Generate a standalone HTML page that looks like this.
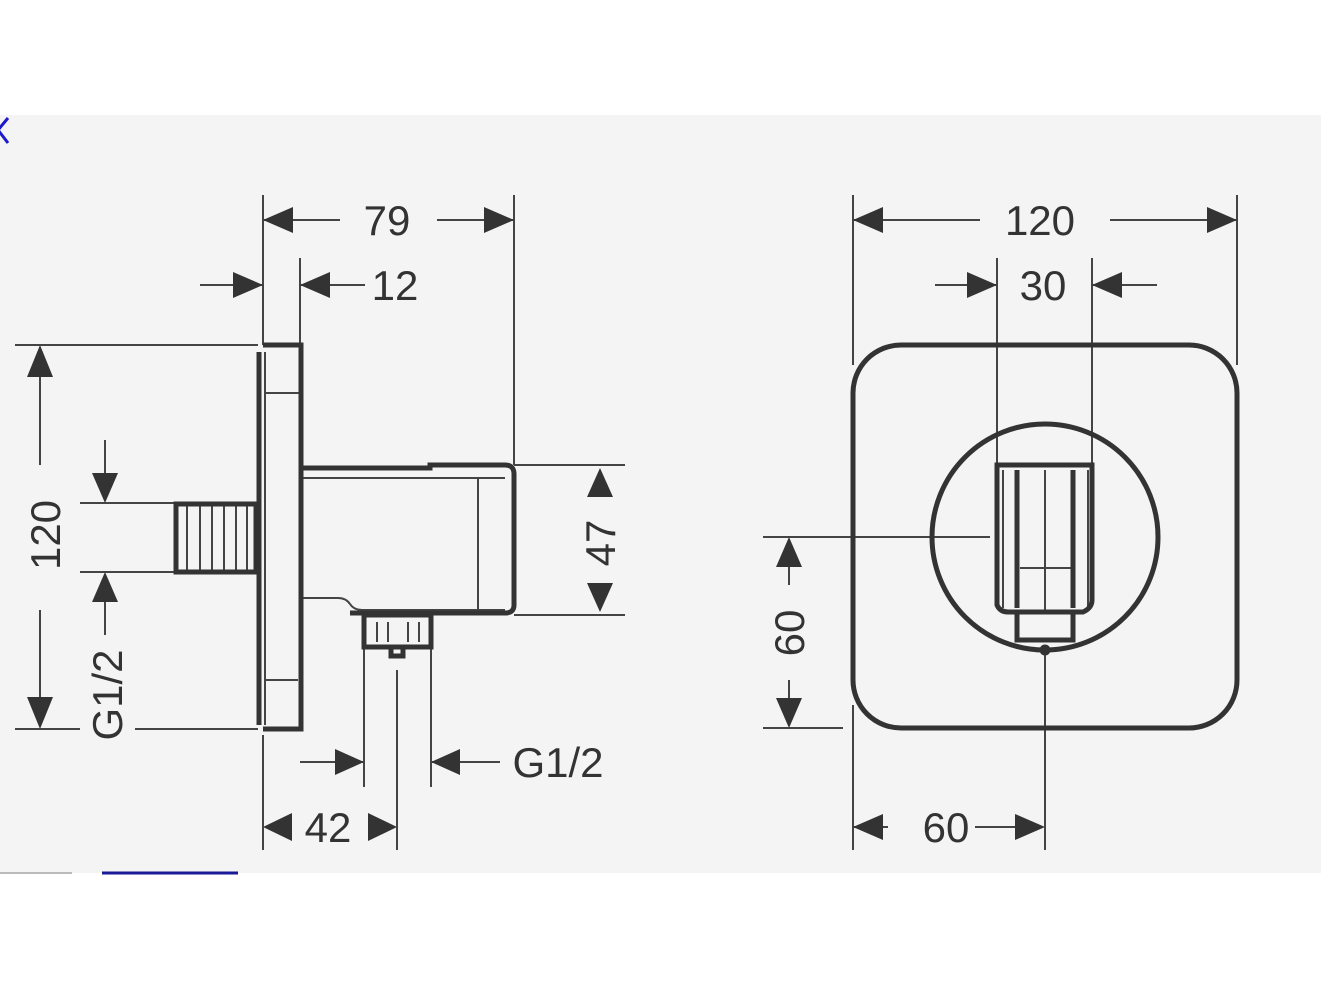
<!DOCTYPE html>
<html><head><meta charset="utf-8"><style>
html,body{margin:0;padding:0;background:#fff;}
svg{display:block;}
text{font-family:"Liberation Sans",sans-serif;font-size:42px;fill:#333;}
</style></head><body>
<svg width="1321" height="991" viewBox="0 0 1321 991" xmlns="http://www.w3.org/2000/svg">
<rect x="0" y="0" width="1321" height="991" fill="#fff"/>
<rect x="0" y="115" width="1321" height="758" fill="#f4f4f4"/>
<path d="M8 118 L-2 130 L8 143" stroke="#1a1acc" stroke-width="3" fill="none"/>
<line x1="0" y1="873" x2="72" y2="873" stroke="#bbb" stroke-width="2"/>
<line x1="102" y1="873" x2="238" y2="873" stroke="#1a1a99" stroke-width="3"/>

<g stroke="#444" stroke-width="2" fill="none">
<!-- LEFT VIEW dimension lines -->
<line x1="263" y1="195" x2="263" y2="345"/>
<line x1="514" y1="195" x2="514" y2="465"/>
<line x1="263" y1="220" x2="340" y2="220"/>
<line x1="437" y1="220" x2="514" y2="220"/>
<line x1="300" y1="258" x2="300" y2="345"/>
<line x1="200" y1="285" x2="263" y2="285"/>
<line x1="300" y1="285" x2="365" y2="285"/>
<line x1="15" y1="345" x2="258" y2="345"/>
<line x1="40" y1="375" x2="40" y2="465"/>
<line x1="40" y1="610" x2="40" y2="700"/>
<line x1="15" y1="729" x2="80" y2="729"/>
<line x1="135" y1="729" x2="258" y2="729"/>
<line x1="105" y1="440" x2="105" y2="475"/>
<line x1="80" y1="503" x2="175" y2="503"/>
<line x1="80" y1="572" x2="175" y2="572"/>
<line x1="105" y1="600" x2="105" y2="635"/>
<line x1="514" y1="465" x2="625" y2="465"/>
<line x1="514" y1="615" x2="625" y2="615"/>
<line x1="364" y1="630" x2="364" y2="787"/>
<line x1="431" y1="630" x2="431" y2="787"/>
<line x1="397" y1="670" x2="397" y2="850"/>
<line x1="263" y1="735" x2="263" y2="850"/>
<line x1="300" y1="762" x2="364" y2="762"/>
<line x1="431" y1="762" x2="500" y2="762"/>
<!-- plate details -->
<line x1="265" y1="393" x2="300" y2="393"/>
<line x1="265" y1="680" x2="298" y2="680"/>
<line x1="265" y1="352" x2="265" y2="725"/>
<line x1="303" y1="478" x2="505" y2="478"/>
<line x1="478" y1="478" x2="478" y2="612"/>
<path d="M303 598 L338 598 Q346 598 350 604 Q354 610 362 610 L505 610"/>
<!-- stub hatch -->
<line x1="187" y1="505" x2="187" y2="571"/>
<line x1="200" y1="505" x2="200" y2="571"/>
<line x1="212" y1="505" x2="212" y2="571"/>
<line x1="224" y1="505" x2="224" y2="571"/>
<line x1="236" y1="505" x2="236" y2="571"/>
<line x1="247" y1="505" x2="247" y2="571"/>
<!-- nut inner -->
<line x1="377" y1="622" x2="377" y2="642"/>
<line x1="388" y1="622" x2="388" y2="642"/>
<line x1="408" y1="622" x2="408" y2="642"/>
<line x1="419" y1="622" x2="419" y2="642"/>

<!-- RIGHT VIEW dims -->
<line x1="853" y1="195" x2="853" y2="365"/>
<line x1="1237" y1="195" x2="1237" y2="365"/>
<line x1="853" y1="220" x2="980" y2="220"/>
<line x1="1110" y1="220" x2="1237" y2="220"/>
<line x1="997" y1="258" x2="997" y2="465"/>
<line x1="1092" y1="258" x2="1092" y2="465"/>
<line x1="935" y1="285" x2="997" y2="285"/>
<line x1="1092" y1="285" x2="1157" y2="285"/>
<line x1="763" y1="537" x2="990" y2="537"/>
<line x1="789" y1="560" x2="789" y2="585"/>
<line x1="789" y1="680" x2="789" y2="705"/>
<line x1="763" y1="728" x2="843" y2="728"/>
<line x1="853" y1="705" x2="853" y2="850"/>
<line x1="1045" y1="655" x2="1045" y2="850"/>
<line x1="853" y1="827" x2="888" y2="827"/>
<line x1="975" y1="827" x2="1020" y2="827"/>
<line x1="1003" y1="470" x2="1003" y2="608"/>
<line x1="1088" y1="470" x2="1088" y2="608"/>
<line x1="1045" y1="470" x2="1045" y2="612"/>
<line x1="1020" y1="568" x2="1073" y2="568"/>
</g>

<g stroke="#333" stroke-width="5" fill="none">
<!-- plate -->
<path d="M259 352 L259 725"/>
<path d="M263 345 L301 345 L301 729 L263 729"/>
<!-- stub -->
<rect x="176" y="504" width="80" height="68"/>
<!-- body -->
<path d="M303 468 L430 468 L430 465 L505 465 Q514 465 514 474 L514 605 Q514 613 505 613 L350 613"/>
<!-- nut -->
<rect x="364" y="615" width="67" height="32"/>
<rect x="391" y="647" width="12" height="9"/>
<!-- right view -->
<rect x="853" y="345" width="384" height="383" rx="48" ry="48"/>
<circle cx="1045" cy="537" r="113"/>
<path d="M997 465 L997 605 Q1000 612 1008 612 L1083 612 Q1092 608 1092 600 L1092 465 Z"/>
<line x1="1017" y1="470" x2="1017" y2="608"/>
<line x1="1073" y1="470" x2="1073" y2="608"/>
<rect x="1017" y="612" width="56" height="28"/>
</g>
<circle cx="1045" cy="650" r="4" fill="none" stroke="#333" stroke-width="3"/>

<g fill="#333">
<!-- 79 -->
<polygon points="263,220 293,207 293,233"/>
<polygon points="514,220 484,207 484,233"/>
<!-- 12 -->
<polygon points="263,285 233,272 233,298"/>
<polygon points="300,285 330,272 330,298"/>
<!-- 120 vertical -->
<polygon points="40,345 27,377 53,377"/>
<polygon points="40,729 27,697 53,697"/>
<!-- G1/2 left -->
<polygon points="105,503 92,473 118,473"/>
<polygon points="105,572 92,602 118,602"/>
<!-- 47 -->
<polygon points="600,468 587,497 613,497"/>
<polygon points="600,612 587,583 613,583"/>
<!-- G1/2 bottom -->
<polygon points="364,762 335,749 335,775"/>
<polygon points="431,762 460,749 460,775"/>
<!-- 42 -->
<polygon points="263,827 292,813 292,841"/>
<polygon points="397,827 368,813 368,841"/>
<!-- right 120 -->
<polygon points="853,220 883,207 883,233"/>
<polygon points="1237,220 1207,207 1207,233"/>
<!-- 30 -->
<polygon points="997,285 967,272 967,298"/>
<polygon points="1092,285 1122,272 1122,298"/>
<!-- 60 vertical -->
<polygon points="789,537 776,567 802,567"/>
<polygon points="789,728 776,698 802,698"/>
<!-- 60 horizontal -->
<polygon points="853,827 883,814 883,840"/>
<polygon points="1045,827 1015,814 1015,840"/>
</g>

<text x="387" y="235" text-anchor="middle">79</text>
<text x="395" y="300" text-anchor="middle">12</text>
<text x="1040" y="235" text-anchor="middle">120</text>
<text x="1043" y="300" text-anchor="middle">30</text>
<text x="328" y="842" text-anchor="middle">42</text>
<text x="558" y="777" text-anchor="middle">G1/2</text>
<text x="946" y="842" text-anchor="middle">60</text>
<text transform="translate(60,535) rotate(-90)" text-anchor="middle">120</text>
<text transform="translate(122,695) rotate(-90)" text-anchor="middle">G1/2</text>
<text transform="translate(615,543) rotate(-90)" text-anchor="middle">47</text>
<text transform="translate(804,633) rotate(-90)" text-anchor="middle">60</text>
</svg>
</body></html>
